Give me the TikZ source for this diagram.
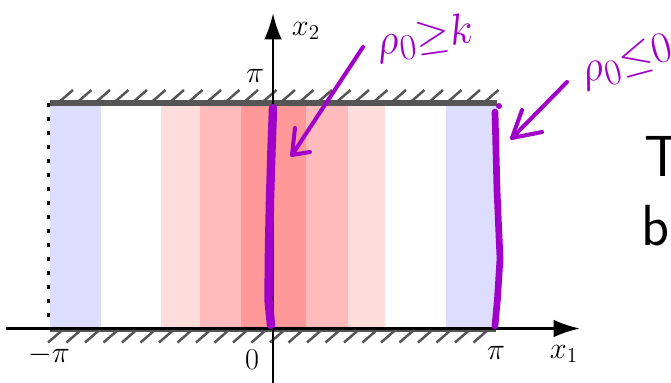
\documentclass[tikz,border=0pt]{standalone}
\usepackage{amsmath}
\usepackage{amssymb}
\usepackage{fontspec}
\usetikzlibrary{arrows.meta}

\definecolor{inkpurple}{RGB}{160,0,200}
\definecolor{wallgray}{RGB}{85,85,85}
\definecolor{bandblue}{RGB}{221,221,255}
\definecolor{bandlight}{RGB}{255,221,221}
\definecolor{bandmid}{RGB}{255,187,187}
\definecolor{banddark}{RGB}{255,153,153}

\tikzset{
  lbl/.style={font=\fontsize{17.28}{22}\selectfont},
  ink/.style={inkpurple, line cap=round, line join=round},
  wall/.style={wallgray, line width=3.4pt},
  hatch/.style={wallgray, line width=1.4pt},
  axis/.style={line width=1.5pt, -{Latex[length=15pt,width=10pt]}},
  bigtext/.style={font=\sffamily\fontsize{33}{40}\selectfont, anchor=base west, inner sep=0pt}
}

\begin{document}
\begin{tikzpicture}
\useasboundingbox (-5.46,-1.07) rectangle (7.96,6.57);

% Bands
\fill[bandblue] (-4.46,0) rectangle (-3.44,4.51);
\fill[bandblue] (3.46,0) rectangle (4.47,4.51);
\fill[bandlight] (-2.24,0) rectangle (2.24,4.51);
\fill[bandmid] (-1.46,0) rectangle (1.5,4.51);
\fill[banddark] (-0.65,0) rectangle (0.66,4.51);

% Walls
\foreach \i in {0,...,23} {
  \draw[hatch] ({-4.3+0.37*\i},4.51) -- ++(0.3,0.26);
  \draw[hatch] ({-4.2+0.37*\i},-0.02) -- ++(-0.3,-0.26);
}
\draw[wall] (-4.46,4.51) -- (4.48,4.51);
\draw[wall] (-4.46,-0.02) -- (4.45,-0.02);

% Left side
\draw[line width=2.2pt, dash pattern=on 2.2pt off 5.77pt] (-4.49,4.51) -- (-4.49,0.2);

% Axes
\draw[axis] (-5.34,0) -- (6.14,0);
\draw[axis] (0,-1.1) -- (0,6.31);

\node[lbl] (xone) at (5.82,-0.51) {$x_1$};
\node[lbl] (xtwo) at (0.66,5.95) {$x_2$};
\node[lbl] (pitop) at (-0.36,5.05) {$\pi$};
\node[lbl] (mpi) at (-4.48,-0.53) {$-\pi$};
\node[lbl] (zero) at (-0.42,-0.63) {$0$};
\node[lbl] (pibot) at (4.46,-0.49) {$\pi$};

% Handwriting
\draw[ink, line width=4.8pt] (0,4.41) -- (-0.03,3.57) -- (-0.06,2.57)
    -- (-0.08,1.57) -- (-0.09,0.57) -- (-0.04,0.07);
\draw[ink, line width=3.8pt] (4.44,4.33) -- (4.48,2.77) -- (4.54,1.4)
    -- (4.49,0.6) -- (4.44,0.05);
\fill[inkpurple] (4.52,4.45) circle (0.06);

\node[inkpurple, rotate=8, font=\fontsize{24.88}{28}\selectfont] (rhok) at (3.04,5.81) {$\rho_0{\geq}k$};
\node[inkpurple, rotate=15, font=\fontsize{24.88}{28}\selectfont] (rhozero) at (7.08,5.33) {$\rho_0{\leq}0$};

\coordinate (tailone) at (1.8,5.63);
\coordinate (tipone) at (0.38,3.47);
\coordinate (tailtwo) at (5.88,4.93);
\coordinate (tiptwo) at (4.78,3.81);

\draw[ink, line width=2.3pt] (tailone) -- (tipone) -- ++(0.36,0.06);
\draw[ink, line width=2.3pt] (tipone) -- ++(0.06,0.54);
\draw[ink, line width=2.3pt] (tailtwo) -- (tiptwo) -- ++(0.6,0.12);
\draw[ink, line width=2.3pt] (tiptwo) -- ++(0.2,0.56);

% Text on the right
\node[bigtext] (tline) at (7.42,3.05) {T};
\node[bigtext] (bline) at (7.37,1.67) {b};

\end{tikzpicture}
\end{document}
